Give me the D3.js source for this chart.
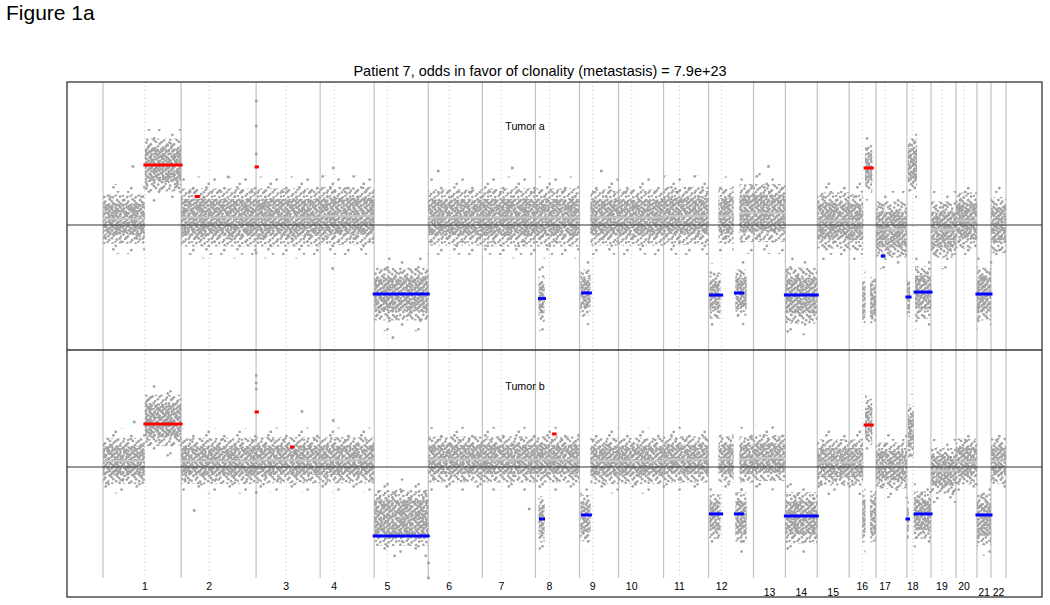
<!DOCTYPE html>
<html>
<head>
<meta charset="utf-8">
<script src="https://cdn.jsdelivr.net/npm/d3@7"></script>
<style>
body { margin: 0; background: #fff; }
svg text { font-family: "Liberation Sans", Arial, sans-serif; fill: #000; }
</style>
</head>
<body>
<svg id="fig" width="1050" height="605"></svg>
<script>
// chromosomes (lengths / centromeres in Mb)
var chromNames = ["1","2","3","4","5","6","7","8","9","10","11","12","13","14","15","16","17","18","19","20","21","22"];
var chromLenMb = [250,240,205,173,173,173,170,141,125,144,144,144,102,102,102,86,99,77,80,67,45,48];
var centroMb   = [134,90,96,45,42,67,61,45,42,42,51,42,null,null,null,42,29,19,35,26,null,null];

// probe clouds: [chr, startMb, endMb, mean log ratio, spread]
var cloudsA = [
  [1,0,134,0.04,0.075],[1,134,250,0.40,0.08],[2,0,240,0.05,0.088],[3,0,205,0.05,0.088],
  [4,0,173,0.06,0.088],[5,0,173,-0.46,0.08],[6,0,173,0.05,0.085],[7,0,170,0.05,0.088],
  [8,0,141,0.05,0.088],[8,10,29,-0.49,0.07],[9,3,35,-0.45,0.07],[9,35,125,0.05,0.085],
  [10,0,144,0.05,0.085],[11,0,144,0.06,0.088],[12,3,38,-0.47,0.07],[12,32,80,0.06,0.085],
  [12,86,122,-0.45,0.07],[12,99,144,0.08,0.088],[13,0,102,0.08,0.088],[14,0,102,-0.47,0.085],
  [15,0,102,0.03,0.085],[16,0,45,0.02,0.085],[16,42,52,-0.5,0.07],[16,51,74,0.38,0.07],
  [16,67,86,-0.5,0.07],[17,0,99,-0.03,0.085],[18,0,10,-0.48,0.06],[18,3,32,0.40,0.08],
  [18,26,77,-0.45,0.08],[19,0,80,-0.03,0.085],[20,0,67,0.03,0.085],[21,0,45,-0.46,0.08],
  [22,0,48,0.0,0.085]
];
var cloudsB = [
  [1,0,134,0.04,0.07],[1,134,250,0.31,0.078],[2,0,240,0.04,0.07],[3,0,205,0.045,0.07],
  [4,0,173,0.045,0.07],[5,0,173,-0.34,0.085],[6,0,173,0.05,0.07],[7,0,170,0.05,0.07],
  [8,0,141,0.05,0.07],[8,10,29,-0.35,0.07],[9,3,35,-0.34,0.07],[9,35,125,0.04,0.07],
  [10,0,144,0.04,0.07],[11,0,144,0.05,0.07],[12,3,38,-0.33,0.068],[12,32,80,0.05,0.07],
  [12,86,122,-0.34,0.078],[12,99,144,0.05,0.07],[13,0,102,0.06,0.07],[14,0,102,-0.34,0.078],
  [15,0,102,0.03,0.07],[16,0,45,0.03,0.07],[16,42,52,-0.33,0.078],[16,51,74,0.30,0.07],
  [16,67,86,-0.33,0.078],[17,0,99,0.01,0.07],[18,0,6,-0.35,0.06],[18,3,22,0.24,0.08],
  [18,22,77,-0.32,0.072],[19,0,80,-0.025,0.07],[20,0,67,0.035,0.07],[21,0,45,-0.35,0.078],
  [22,0,48,0.04,0.07]
];

// called segments: [chr, startMb, endMb, value, +1 gain / -1 loss]
var callsA = [
  [1,134,250,0.40,1],[2,48,55,0.19,1],[3,0,4,0.387,1],[5,0,173,-0.46,-1],[8,13,29,-0.49,-1],
  [9,10,35,-0.453,-1],[12,6,42,-0.467,-1],[12,86,109,-0.453,-1],[14,0,102,-0.467,-1],
  [16,51,74,0.38,1],[17,20,25,-0.207,-1],[18,0,10,-0.48,-1],[18,26,77,-0.447,-1],[21,0,45,-0.46,-1]
];
var callsB = [
  [1,134,250,0.287,1],[3,0,4,0.367,1],[3,113,118,0.133,1],[5,0,173,-0.46,-1],[8,16,26,-0.347,-1],
  [8,58,63,0.22,1],[9,10,35,-0.32,-1],[12,6,42,-0.313,-1],[12,86,109,-0.313,-1],[14,0,102,-0.327,-1],
  [16,51,74,0.28,1],[18,0,5,-0.347,-1],[18,26,77,-0.313,-1],[21,0,45,-0.32,-1]
];

// isolated probes: [chr, posMb, value]
var outliersA = [
  [3,0.5,0.827],[3,0.5,0.66],[3,0.5,0.473],[3,0.5,-0.187],[1,96,0.39],[4,42,0.38],[4,40,-0.29],
  [6,32,0.36],[7,96,0.38],[13,48,0.39],[5,60,-0.75],[2,150,0.32],[9,70,0.36]
];
var outliersB = [
  [3,0.5,0.61],[3,0.5,0.56],[3,0.5,0.52],[3,0.5,-0.17],[2,42,-0.29],[3,147,0.37],[4,42,0.31],
  [6,0.5,-0.64],[6,0.5,-0.74],[1,100,0.3],[7,150,-0.28]
];

var titleText = "Patient 7, odds in favor of clonality (metastasis) = 7.9e+23";

var svg = d3.select("#fig");

var chromStart = [], acc = 0;
chromLenMb.forEach(function(l) { chromStart.push(acc); acc += l; });
var x = d3.scaleLinear().domain([0, acc]).range([103, 1006]);
function gx(chr, mb) { return x(chromStart[chr - 1] + mb); }

var boxL = 67, boxR = 1042, boxT = 82, boxB = 597, midY = 350, lineBottom = 578;

var panels = [
  { name: "Tumor a", clouds: cloudsA, calls: callsA, pts: outliersA, ty: 130,
    y: d3.scaleLinear().domain([-0.833, 0.953]).range([midY, boxT]) },
  { name: "Tumor b", clouds: cloudsB, calls: callsB, pts: outliersB, ty: 390,
    y: d3.scaleLinear().domain([-0.867, 0.78]).range([boxB, midY]) }
];

// dot textures for the probe clouds
var tilePts = [[1.2,0.8],[6.9,2.7],[11.4,1.1],[17.8,3.2],[21.3,0.6],[27.6,2.1],
  [3.1,6.4],[8.2,8.7],[13.9,5.6],[16.4,7.9],[23.7,6.8],[26.2,9.1],
  [0.7,12.9],[6.3,11.2],[12.1,13.8],[18.6,10.7],[22.4,13.3],[28.3,11.6],
  [2.9,17.7],[9.4,15.9],[11.6,18.4],[17.2,16.3],[24.8,18.9],[26.9,15.4],
  [1.8,21.6],[7.7,23.9],[14.3,20.8],[19.1,23.2],[21.7,21.1],[28.8,24.1],
  [4.2,27.3],[5.9,25.6],[13.2,28.7],[16.8,26.4],[23.3,28.1],[27.1,26.8]];
var sparseIdx = [0, 8, 14, 19, 27, 33, 4, 22, 11, 30];
var defs = svg.append("defs");
function makePattern(id, size, pts, dx, dy) {
  var p = defs.append("pattern").attr("id", id).attr("patternUnits", "userSpaceOnUse")
    .attr("width", size).attr("height", size)
    .attr("patternTransform", "translate(" + dx + "," + dy + ")");
  pts.forEach(function(d) {
    p.append("circle").attr("cx", d[0] * size / 30).attr("cy", d[1] * size / 30)
      .attr("r", 1.35).attr("fill", "#a2a2a2");
  });
}
makePattern("dense", 17, tilePts, 0, 0);
makePattern("medium", 23, tilePts, 7, 11);
makePattern("sparse", 31, sparseIdx.map(function(i) { return tilePts[i]; }), 3, 5);

// chromosome boundaries and centromeres
var bounds = chromStart.concat([acc]);
svg.append("g").selectAll("line").data(bounds).enter().append("line")
  .attr("x1", function(d) { return x(d); }).attr("x2", function(d) { return x(d); })
  .attr("y1", boxT).attr("y2", lineBottom)
  .attr("stroke", "#c2c2c2").attr("stroke-width", 1.2);
svg.append("g").selectAll("line").data(d3.range(22).filter(function(i) { return centroMb[i] != null; }))
  .enter().append("line")
  .attr("x1", function(i) { return gx(i + 1, centroMb[i]); }).attr("x2", function(i) { return gx(i + 1, centroMb[i]); })
  .attr("y1", boxT).attr("y2", lineBottom)
  .attr("stroke", "#c4c4c4").attr("stroke-width", 1).attr("stroke-dasharray", "1,3");

panels.forEach(function(pn) {
  var y = pn.y;
  var g = svg.append("g");
  var bands = [["sparse", 3.1], ["medium", 2.2], ["dense", 1.4]];
  bands.forEach(function(b) {
    g.append("g").selectAll("rect").data(pn.clouds).enter().append("rect")
      .attr("x", function(d) { return gx(d[0], d[1]); })
      .attr("width", function(d) { return gx(d[0], d[2]) - gx(d[0], d[1]); })
      .attr("y", function(d) { return y(d[3] + b[1] * d[4]); })
      .attr("height", function(d) { return y(d[3] - b[1] * d[4]) - y(d[3] + b[1] * d[4]); })
      .attr("fill", "url(#" + b[0] + ")");
  });
  g.append("g").selectAll("rect").data(pn.pts).enter().append("rect")
    .attr("x", function(d) { return gx(d[0], d[1]) - 1.3; })
    .attr("y", function(d) { return y(d[2]) - 1.3; })
    .attr("width", 2.6).attr("height", 2.6).attr("fill", "#a2a2a2");
  // neutral segment means
  g.append("g").selectAll("line").data(pn.clouds.filter(function(d) { return Math.abs(d[3]) < 0.15; }))
    .enter().append("line")
    .attr("x1", function(d) { return gx(d[0], d[1]); }).attr("x2", function(d) { return gx(d[0], d[2]); })
    .attr("y1", function(d) { return y(d[3]); }).attr("y2", function(d) { return y(d[3]); })
    .attr("stroke", "#c6c6c6").attr("stroke-width", 2);
  // zero line
  g.append("line").attr("x1", boxL).attr("x2", boxR).attr("y1", y(0)).attr("y2", y(0))
    .attr("stroke", "#333").attr("stroke-width", 1.1);
  // called gains / losses
  g.append("g").selectAll("line").data(pn.calls).enter().append("line")
    .attr("x1", function(d) { return gx(d[0], d[1]); }).attr("x2", function(d) { return gx(d[0], d[2]); })
    .attr("y1", function(d) { return y(d[3]); }).attr("y2", function(d) { return y(d[3]); })
    .attr("stroke", function(d) { return d[4] > 0 ? "#ff0000" : "#0000ff"; })
    .attr("stroke-width", 3).attr("stroke-linecap", "square");
  svg.append("text").attr("x", 525).attr("y", pn.ty).attr("text-anchor", "middle")
    .style("font-size", "10.7px").text(pn.name);
});

// frame
svg.append("rect").attr("x", boxL).attr("y", boxT).attr("width", boxR - boxL).attr("height", boxB - boxT)
  .attr("fill", "none").attr("stroke", "#333").attr("stroke-width", 1.3);
svg.append("line").attr("x1", boxL).attr("x2", boxR).attr("y1", midY).attr("y2", midY)
  .attr("stroke", "#333").attr("stroke-width", 1.3);

// chromosome labels
svg.append("g").selectAll("text").data(chromNames).enter().append("text")
  .attr("x", function(d, i) { return centroMb[i] != null ? gx(i + 1, centroMb[i]) : gx(i + 1, chromLenMb[i] / 2); })
  .attr("y", function(d, i) { return centroMb[i] != null ? 590 : 596; })
  .attr("text-anchor", "middle").style("font-size", "10.5px").text(function(d) { return d; });

svg.append("text").attr("x", 540).attr("y", 76).attr("text-anchor", "middle")
  .style("font-size", "14.5px").text(titleText);
svg.append("text").attr("x", 6).attr("y", 20).style("font-size", "21px").text("Figure 1a");
</script>
</body>
</html>
